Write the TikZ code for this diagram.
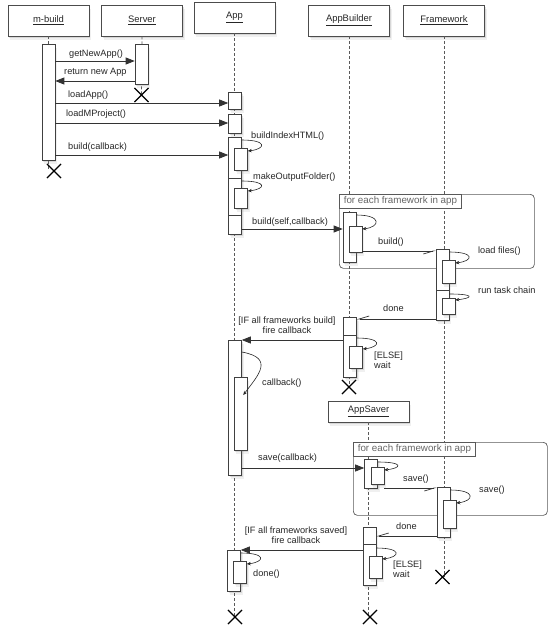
\documentclass[tikz,border=0pt]{standalone}
\usepackage{fontspec}
\setmainfont{Liberation Sans}
\usetikzlibrary{arrows.meta,shadows,shapes.misc}
\begin{document}
\begin{tikzpicture}[x=1pt,y=-1pt,
  lbl/.style={font=\fontsize{9.2}{10.5}\selectfont, text=black!85, inner sep=0pt},
  softshadow/.style={
    drop shadow={shadow xshift=2pt,shadow yshift=-3.5pt,opacity=0.12},
    drop shadow={shadow xshift=1pt,shadow yshift=-2pt,opacity=0.22}},
  objbox/.style={draw=black!70, fill=white, line width=0.7pt, minimum width=81pt,
    minimum height=31pt, inner sep=0pt, font=\fontsize{9.4}{11}\selectfont, text=black!85,
    softshadow},
  actbox/.style={draw=black!75, fill=white, line width=0.6pt, minimum width=13pt,
    inner sep=0pt, anchor=north, softshadow},
  lifeline/.style={draw=black!65, line width=0.7pt, dash pattern=on 3pt off 2pt},
  sync/.style={draw=black!80, line width=0.7pt, -{Triangle[length=9pt,width=7pt]}},
  async/.style={draw=black!80, line width=0.7pt, -{Straight Barb[right,length=10pt,width=6pt]}},
  selfcall/.style={draw=black!85, line width=0.6pt, -{Stealth[length=4pt,width=3.5pt]}},
  destroy/.style={cross out, draw=black, line width=1.1pt, minimum size=13pt, inner sep=0pt},
  loopframe/.style={draw=black!65, line width=0.7pt, rounded corners=4pt, anchor=north west, inner sep=0pt},
  looptab/.style={draw=black!65, line width=0.6pt, fill=white, anchor=north west,
    inner xsep=4.5pt, inner ysep=0pt, minimum height=14pt,
    font=\fontsize{9.8}{11}\selectfont, text=black!60},
]
\useasboundingbox (0,0) rectangle (550,625);

% object heads
\node[objbox] (mb)  at (48.5,20.5) {\underline{m-build}};
\node[objbox] (srv) at (142,20.5)  {\underline{Server}};
\node[objbox] (app) at (234.5,17.5) {\underline{App}};
\node[objbox] (ab)  at (349,20.5)  {\underline{AppBuilder}};
\node[objbox] (fw)  at (444,20.5)  {\underline{Framework}};

% end points of the lifelines
\coordinate (mbEnd)  at (54,171);
\coordinate (srvEnd) at (141.5,95);
\coordinate (abEnd)  at (349,387);
\coordinate (fwEnd)  at (442.5,577);
\coordinate (appEnd) at (235,617);
\coordinate (asEnd)  at (370,617);

% lifelines
\draw[lifeline] (mb.south) -- (mb.south |- mbEnd);
\draw[lifeline] (srv.south) -- (srvEnd);
\draw[lifeline] (app.south) -- (app.south |- appEnd);
\draw[lifeline] (ab.south) -- (abEnd);
\draw[lifeline] (fw.south) -- (fw.south |- fwEnd);

\node[objbox, minimum height=21pt] (as) at (368.5,411.5) {\underline{AppSaver}};
\draw[lifeline] (as.south) -- (as.south |- asEnd);

% loop frames
\node[loopframe, minimum width=195pt, minimum height=74pt] (loop1) at (339,194) {};
\node[looptab] (tab1) at (loop1.north west) {for each framework in app};
\node[loopframe, minimum width=194pt, minimum height=73pt] (loop2) at (353,442) {};
\node[looptab] (tab2) at (loop2.north west) {for each framework in app};

% activations
\node[actbox, minimum height=116pt] (mbA)  at (48.5,44) {};
\node[actbox, minimum height=40pt]  (srvA) at (141.5,44) {};
\node[actbox, minimum height=17pt]  (appA1) at (235,92) {};
\node[actbox, minimum height=19pt]  (appA2) at (235,114) {};
\node[actbox, minimum height=41pt]  (appA3a) at (235,137) {};
\node[actbox, minimum height=37pt]  (appA3b) at (235,178) {};
\node[actbox, minimum height=19pt]  (appA3c) at (235,215) {};
\node[actbox, minimum height=22pt]  (appN1) at (241,148) {};
\node[actbox, minimum height=20pt]  (appN2) at (241,188) {};

\node[actbox, minimum height=50pt]  (abA1) at (349.5,212) {};
\node[actbox, minimum height=26pt]  (abN1) at (355.5,226) {};

\node[actbox, minimum height=41pt]  (fwA1a) at (442.5,249) {};
\node[actbox, minimum height=30pt]  (fwA1b) at (442.5,290) {};
\node[actbox, minimum height=23pt]  (fwN1) at (448.5,260) {};
\node[actbox, minimum height=16pt]  (fwN2) at (448.5,298) {};

\node[actbox, minimum height=18pt]  (abA2a) at (350,317) {};
\node[actbox, minimum height=42pt]  (abA2b) at (350,335) {};
\node[actbox, minimum height=22pt]  (abN2) at (356,346) {};

\node[actbox, minimum height=135pt] (appA4) at (235,340) {};
\node[actbox, minimum height=73pt]  (appN3) at (240.5,377) {};

\node[actbox, minimum height=29pt]  (asA1) at (371,459) {};
\node[actbox, minimum height=17pt]  (asN1) at (377.5,467) {};

\node[actbox, minimum height=50pt]  (fwA2) at (443.5,487) {};
\node[actbox, minimum height=28pt]  (fwN3) at (449.5,500) {};

\node[actbox, minimum height=17pt]  (asA2a) at (369.5,527) {};
\node[actbox, minimum height=41pt]  (asA2b) at (369.5,544) {};
\node[actbox, minimum height=22pt]  (asN2) at (375.5,556) {};

\node[actbox, minimum height=41pt]  (appA5) at (234,550) {};
\node[actbox, minimum height=22pt]  (appN4) at (240,561) {};

% messages: m-build and Server
\draw[sync] (mbA.east |- 0,61) -- (srvA.west |- 0,61);
\node[lbl, anchor=west] (mGet) at (69,54) {getNewApp()};
\draw[sync] (srvA.west |- 0,81) -- (mbA.east |- 0,81);
\node[lbl, anchor=west] (mRet) at (64,72) {return new App};
\draw[sync] (mbA.east |- 0,103) -- (appA1.west |- 0,103);
\node[lbl, anchor=west] (mLoad) at (68,95) {loadApp()};
\draw[sync] (mbA.east |- 0,123) -- (appA2.west |- 0,123);
\node[lbl, anchor=west] (mProj) at (66,114) {loadMProject()};
\draw[sync] (mbA.east |- 0,155) -- (appA3a.west |- 0,155);
\node[lbl, anchor=west] (mBuild) at (68,147) {build(callback)};

% App builds itself
\draw[selfcall] ([yshift=-3pt]appA3a.north east) .. controls +(26,0) and +(18,-2) .. ([yshift=-3pt]appN1.north east);
\node[lbl, anchor=west] (mIdx) at (251,136) {buildIndexHTML()};
\draw[selfcall] ([yshift=-3pt]appA3b.north east) .. controls +(26,0) and +(18,-2) .. ([yshift=-3pt]appN2.north east);
\node[lbl, anchor=west] (mOut) at (253,177) {makeOutputFolder()};

\draw[sync] (appA3c.east |- 0,229) -- (abA1.west |- 0,229);
\node[lbl, anchor=west] (mBsc) at (252,222) {build(self,callback)};

% AppBuilder loop
\draw[selfcall] ([yshift=-3pt]abA1.north east) .. controls +(26,0) and +(18,-2) .. ([yshift=-3pt]abN1.north east);
\draw[async] (abN1.east |- 0,251) -- (fwA1a.west |- 0,251);
\node[lbl, anchor=west] (mB2) at (378,242) {build()};
\draw[selfcall] ([yshift=-3pt]fwA1a.north east) .. controls +(26,0) and +(18,-2) .. ([yshift=-3pt]fwN1.north east);
\node[lbl, anchor=west] (mFiles) at (478,251) {load files()};
\draw[selfcall] ([yshift=-4pt]fwA1b.north east) .. controls +(26,0) and +(18,-2) .. ([yshift=-2pt]fwN2.north east);
\node[lbl, anchor=west] (mTask) at (478,290) {run task chain};
\draw[async] (fwA1b.west |- 0,319) -- (abA2a.east |- 0,319);
\node[lbl, anchor=west] (mDone1) at (383,308) {done};
\draw[selfcall] ([yshift=-3pt]abA2b.north east) .. controls +(26,0) and +(18,-2) .. ([yshift=-3pt]abN2.north east);
\node[lbl, anchor=west, align=left] (mElse1) at (374,360) {[ELSE]\\wait};

\draw[sync] (abA2a.west |- 0,340) -- (appA4.east |- 0,340);
\node[lbl, align=center] (mFire1) at (287,325) {[IF all frameworks build]\\fire callback};

% callback and saving
\draw[selfcall] ([yshift=-12pt]appA4.north east) .. controls +(33,6) and +(15,-20) .. ([xshift=-4pt,yshift=-18pt]appN3.north east);
\node[lbl, anchor=west] (mCb) at (262,383) {callback()};

\draw[sync] (appA4.east |- 0,468) -- (asA1.west |- 0,468);
\node[lbl, anchor=west] (mSave) at (258,458) {save(callback)};
\draw[selfcall] ([yshift=-3pt]asA1.north east) .. controls +(26,0) and +(18,-2) .. ([yshift=-3pt]asN1.north east);
\draw[async] (asN1.east |- 0,488) -- (fwA2.west |- 0,488);
\node[lbl, anchor=west] (mS2) at (403,479) {save()};
\draw[selfcall] ([yshift=-3pt]fwA2.north east) .. controls +(26,0) and +(18,-2) .. ([yshift=-3pt]fwN3.north east);
\node[lbl, anchor=west] (mS3) at (479,490) {save()};
\draw[async] (fwA2.west |- 0,536) -- (asA2a.east |- 0,536);
\node[lbl, anchor=west] (mDone2) at (396,526) {done};
\draw[selfcall] ([yshift=-4pt]asA2b.north east) .. controls +(26,0) and +(18,-2) .. ([yshift=-3pt]asN2.north east);
\node[lbl, anchor=west, align=left] (mElse2) at (393,569) {[ELSE]\\wait};

\draw[sync] (asA2b.west |- 0,550) -- (appA5.east |- 0,550);
\node[lbl, align=center] (mFire2) at (296,535) {[IF all frameworks saved]\\fire callback};
\draw[selfcall] ([yshift=-3pt]appA5.north east) .. controls +(26,0) and +(18,-2) .. ([yshift=-3pt]appN4.north east);
\node[lbl, anchor=west] (mDoneF) at (253,574) {done()};

% destruction marks
\node[destroy] (mbX)  at (mbEnd) {};
\node[destroy] (srvX) at (srvEnd) {};
\node[destroy] (abX)  at (abEnd) {};
\node[destroy] (fwX)  at (fwEnd) {};
\node[destroy] (appX) at (appEnd) {};
\node[destroy] (asX)  at (asEnd) {};
\end{tikzpicture}
\end{document}
